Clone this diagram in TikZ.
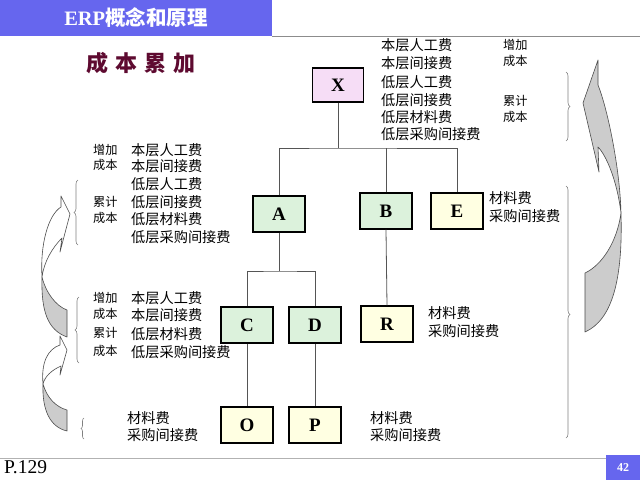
\documentclass[tikz,border=0pt]{standalone}
\usepackage{fontspec}
\setmainfont{Liberation Serif}
\newfontfamily\cjk{Noto Sans CJK SC}
\usetikzlibrary{decorations.pathreplacing}
\definecolor{hdrblue}{HTML}{6666EE}
\definecolor{maroon}{HTML}{5E0A30}
\definecolor{boxgreen}{HTML}{DCF2DC}
\definecolor{boxyellow}{HTML}{FFFFE2}
\definecolor{boxpink}{HTML}{F6DDF6}
\definecolor{wiregray}{HTML}{555555}
\definecolor{arrgray}{HTML}{CCCCCC}
\begin{document}
\begin{tikzpicture}[x=1pt,y=-1pt,
  box/.style={draw=black, line width=1.3pt, minimum width=52pt, minimum height=36pt, inner sep=0pt, font=\bfseries\fontsize{19}{20}\selectfont},
  gbox/.style={box, fill=boxgreen},
  ybox/.style={box, fill=boxyellow},
  lbl/.style={anchor=west, inner sep=0pt, font=\cjk\fontsize{14.2}{15}\selectfont},
  slbl/.style={anchor=west, inner sep=0pt, font=\cjk\fontsize{12.2}{13}\selectfont},
  wire/.style={draw=wiregray, line width=0.8pt},
  brc/.style={draw=gray, line width=0.6pt, decorate, decoration={brace, amplitude=4pt}},
  arr/.style={draw=black!70, line width=0.6pt}]
\useasboundingbox (0,0) rectangle (640,480);
\fill[white] (0,0) rectangle (640,480);
% header
\fill[hdrblue] (0,0) rectangle (272,36);
\draw[draw=black!45, line width=0.8pt] (272,36) -- (640,36);
\node[text=white, inner sep=0pt, font=\bfseries\fontsize{20.5}{22}\selectfont] (title) at (136,18) {ERP{\cjk 概念和原理}};
\node[text=maroon, inner sep=0pt, font=\cjk\bfseries\fontsize{22}{24}\selectfont] (sub) at (141,63) {成\hspace{7pt}本\hspace{7pt}累\hspace{7pt}加};
% footer
\draw[draw=black!30, line width=0.8pt] (0,458) -- (606,458);
\node[anchor=west, inner sep=0pt, font=\fontsize{19.5}{20}\selectfont] (page) at (4,467) {P.129};
\fill[hdrblue] (606,455) rectangle (640,480);
\node[text=white, inner sep=0pt, font=\bfseries\fontsize{12}{13}\selectfont] (num) at (623,468) {42};
% boxes
\node[box, fill=boxpink, minimum width=51pt, minimum height=34pt] (X) at (338,85) {X};
\node[gbox] (A) at (279,214) {A};
\node[gbox] (B) at (386,211) {B};
\node[ybox] (E) at (457,211) {E};
\node[gbox] (C) at (247,325) {C};
\node[gbox] (D) at (315,325) {D};
\node[ybox] (R) at (387,324) {R};
\node[ybox] (O) at (247,425) {O};
\node[ybox] (P) at (315,425) {P};
% connectors
\coordinate (jx) at (338,148);
\coordinate (ja) at (279,271);
\draw[wire] (X.south) -- (jx);
\draw[wire] (A.north) |- (jx) -| (E.north);
\draw[wire] (B.north) -- (B.north |- jx);
\draw[wire] (A.south) -- (ja);
\draw[wire] (C.north) |- (ja) -| (D.north);
\draw[wire] (B.south) -- (R.north);
\draw[wire] (C.south) -- (O.north);
\draw[wire] (D.south) -- (P.north);
% top right texts
\node[lbl] (t1) at (381,45) {本层人工费};
\node[lbl] (t2) at (381,63) {本层间接费};
\node[lbl] (t3) at (381,82) {低层人工费};
\node[lbl] (t4) at (381,100) {低层间接费};
\node[lbl] (t5) at (381,117) {低层材料费};
\node[lbl] (t6) at (381,134) {低层采购间接费};
\node[slbl] (s1) at (503,45) {增加};
\node[slbl] (s2) at (503,61) {成本};
\node[slbl] (s3) at (503,101) {累计};
\node[slbl] (s4) at (503,117) {成本};
% left A texts
\node[slbl] (a1) at (93,150) {增加};
\node[slbl] (a2) at (93,165) {成本};
\node[slbl] (a3) at (93,202) {累计};
\node[slbl] (a4) at (93,218) {成本};
\node[lbl] (b1) at (131,150) {本层人工费};
\node[lbl] (b2) at (131,166) {本层间接费};
\node[lbl] (b3) at (131,184) {低层人工费};
\node[lbl] (b4) at (131,202) {低层间接费};
\node[lbl] (b5) at (131,219) {低层材料费};
\node[lbl] (b6) at (131,237) {低层采购间接费};
% left C texts
\node[slbl] (c1) at (93,298) {增加};
\node[slbl] (c2) at (93,314) {成本};
\node[slbl] (c3) at (93,333) {累计};
\node[slbl] (c4) at (93,351) {成本};
\node[lbl] (d1) at (131,298) {本层人工费};
\node[lbl] (d2) at (131,315) {本层间接费};
\node[lbl] (d3) at (131,334) {低层材料费};
\node[lbl] (d4) at (131,352) {低层采购间接费};
% material texts
\node[lbl] (m1) at (127,418) {材料费};
\node[lbl] (m2) at (127,435) {采购间接费};
\node[lbl] (p1) at (370,418) {材料费};
\node[lbl] (p2) at (370,435) {采购间接费};
\node[lbl] (e1) at (489,198) {材料费};
\node[lbl] (e2) at (489,216) {采购间接费};
\node[lbl] (r1) at (428,313) {材料费};
\node[lbl] (r2) at (428,331) {采购间接费};
% braces
\draw[brc] (78,245) -- (78,180);
\draw[brc] (79,363) -- (79,297);
\draw[brc, decoration={brace, amplitude=3pt}] (84,439) -- (84,418);
\draw[brc] (566,72) -- (566,141);
\draw[brc, decoration={brace, amplitude=4pt, aspect=0.51}] (566,186) -- (566,438);
% big right arrow
\fill[arrgray] (598,85) -- (598,60) -- (583,103) -- (599,172) -- (598,147)
  .. controls (606,155) and (617,180) .. (621,213)
  .. controls (620,170) and (608,110) .. (598,85) -- cycle;
\draw[arr, line join=round] (598,85) -- (598,60) -- (583,103) -- (599,172) -- (598,147)
  .. controls (606,155) and (617,180) .. (621,213)
  .. controls (620,170) and (608,110) .. (598,85) -- cycle;
\draw[arr, fill=arrgray, line join=round] (621,213) .. controls (617,242) and (602,265) .. (585,273)
  -- (585,332) .. controls (612,320) and (623,280) .. (621,213) -- cycle;
% left arrow 1
\draw[arr, fill=white, line join=round] (61,207) -- (61,196) -- (70,214) -- (60,252) -- (62,238)
  .. controls (52,248) and (44,262) .. (42,277)
  .. controls (40,245) and (48,215) .. (61,207) -- cycle;
\draw[arr, fill=arrgray, line join=round] (42,277) .. controls (46,293) and (56,306) .. (67,310)
  -- (67,337) .. controls (48,330) and (41,312) .. (42,277) -- cycle;
% left arrow 2
\draw[arr, fill=white, line join=round] (60,345) -- (60,336) -- (67,350) -- (60,375) -- (61,366)
  .. controls (52,370) and (45,376) .. (43,384)
  .. controls (41,362) and (48,349) .. (60,345) -- cycle;
\draw[arr, fill=arrgray, line join=round] (43,384) .. controls (47,398) and (56,407) .. (67,410)
  -- (67,431) .. controls (50,427) and (42,410) .. (43,384) -- cycle;
\end{tikzpicture}
\end{document}
